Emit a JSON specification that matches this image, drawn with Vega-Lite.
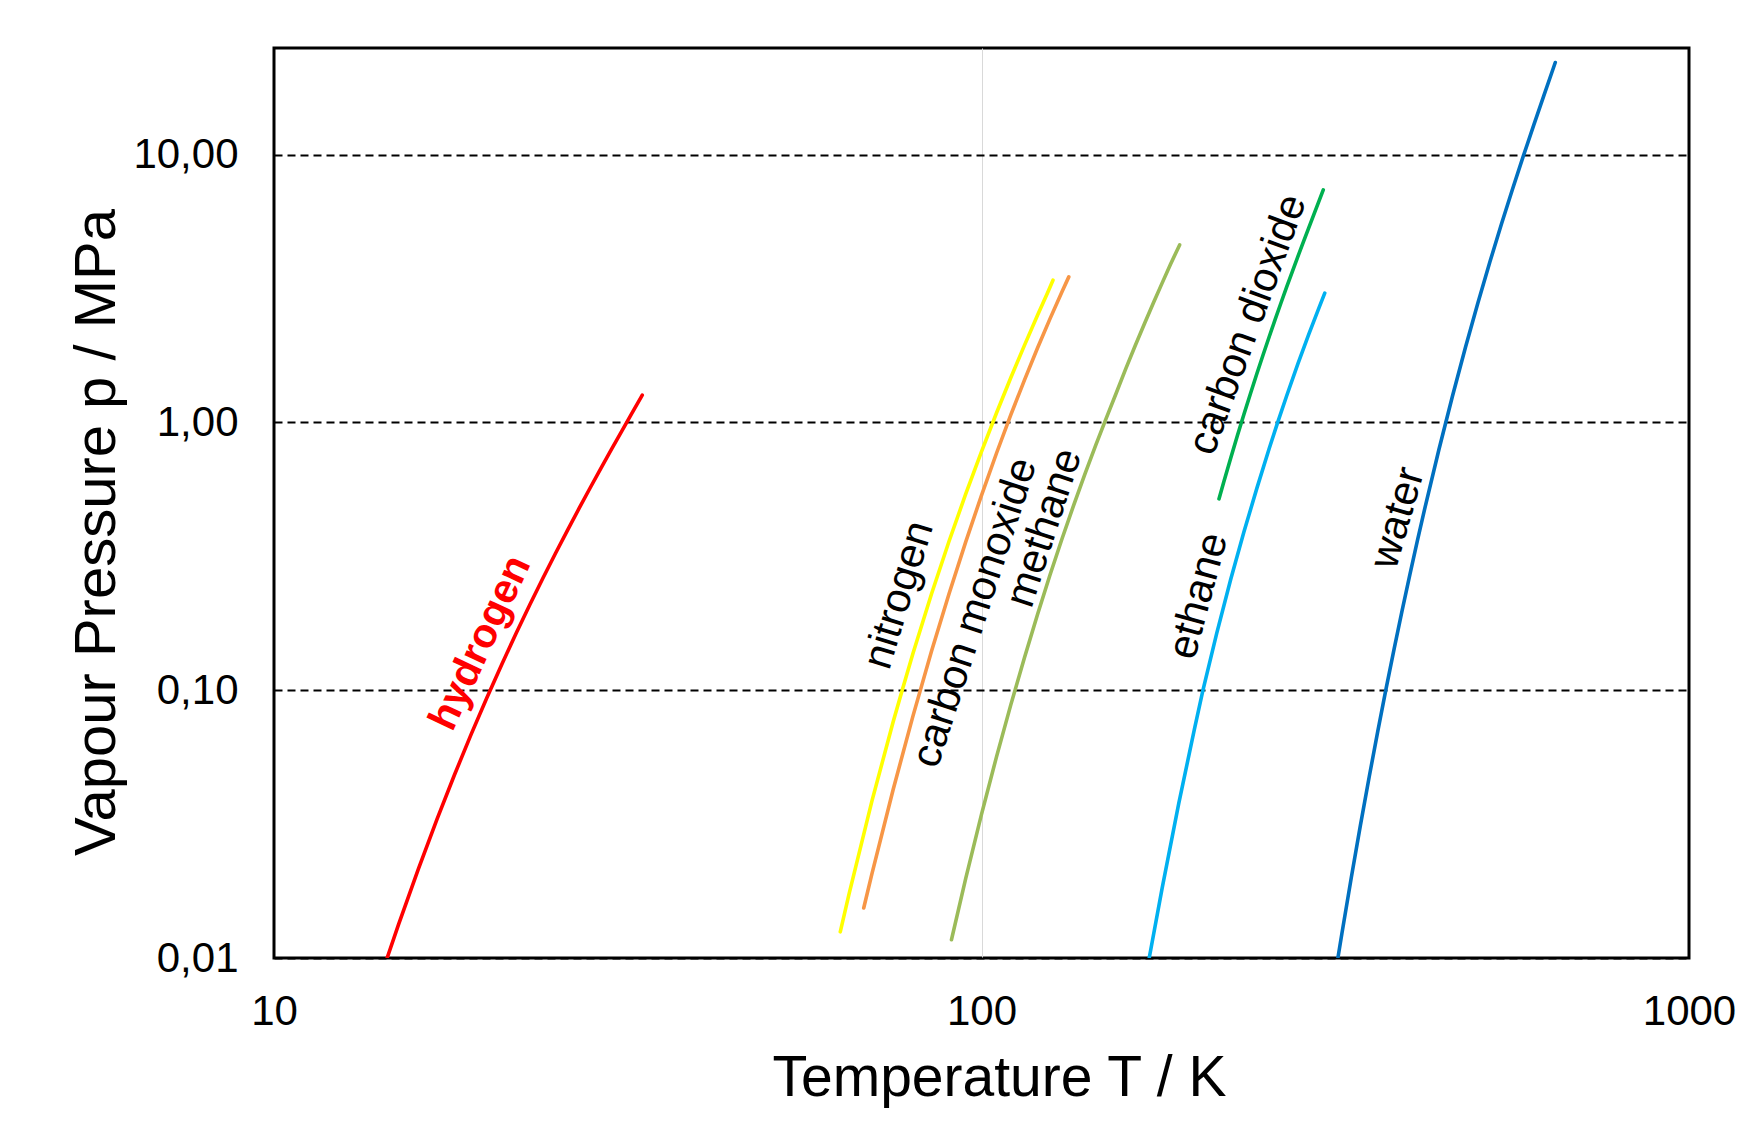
{
  "$schema": "https://vega.github.io/schema/vega-lite/v6.json",
  "width": 1415,
  "height": 910,
  "autosize": {"type": "none"},
  "padding": {"left": 274, "top": 48, "right": 63, "bottom": 176},
  "background": "white",
  "config": {"view": {"stroke": "black", "strokeWidth": 3}, "font": "Liberation Sans"},
  "datasets": {
    "curves": [
      {"substance": "hydrogen", "T": 14.45, "p": 0.0100},
      {"substance": "hydrogen", "T": 15, "p": 0.01335},
      {"substance": "hydrogen", "T": 16, "p": 0.0215},
      {"substance": "hydrogen", "T": 17, "p": 0.03298},
      {"substance": "hydrogen", "T": 18, "p": 0.04843},
      {"substance": "hydrogen", "T": 19, "p": 0.06854},
      {"substance": "hydrogen", "T": 20, "p": 0.09395},
      {"substance": "hydrogen", "T": 21, "p": 0.12536},
      {"substance": "hydrogen", "T": 22, "p": 0.16341},
      {"substance": "hydrogen", "T": 23, "p": 0.2088},
      {"substance": "hydrogen", "T": 24, "p": 0.26223},
      {"substance": "hydrogen", "T": 25, "p": 0.32442},
      {"substance": "hydrogen", "T": 26, "p": 0.39613},
      {"substance": "hydrogen", "T": 27, "p": 0.47813},
      {"substance": "hydrogen", "T": 28, "p": 0.57125},
      {"substance": "hydrogen", "T": 29, "p": 0.67635},
      {"substance": "hydrogen", "T": 30, "p": 0.79438},
      {"substance": "hydrogen", "T": 31, "p": 0.92638},
      {"substance": "hydrogen", "T": 32, "p": 1.0736},
      {"substance": "hydrogen", "T": 33, "p": 1.2376},
      {"substance": "hydrogen", "T": 33.15, "p": 1.264},
      {"substance": "nitrogen", "T": 63.15, "p": 0.01252},
      {"substance": "nitrogen", "T": 65, "p": 0.0174},
      {"substance": "nitrogen", "T": 70, "p": 0.03855},
      {"substance": "nitrogen", "T": 75, "p": 0.07604},
      {"substance": "nitrogen", "T": 77.36, "p": 0.10133},
      {"substance": "nitrogen", "T": 80, "p": 0.13699},
      {"substance": "nitrogen", "T": 85, "p": 0.22903},
      {"substance": "nitrogen", "T": 90, "p": 0.3605},
      {"substance": "nitrogen", "T": 95, "p": 0.54041},
      {"substance": "nitrogen", "T": 100, "p": 0.77827},
      {"substance": "nitrogen", "T": 105, "p": 1.0841},
      {"substance": "nitrogen", "T": 110, "p": 1.4671},
      {"substance": "nitrogen", "T": 115, "p": 1.9385},
      {"substance": "nitrogen", "T": 120, "p": 2.5106},
      {"substance": "nitrogen", "T": 124, "p": 3.0476},
      {"substance": "nitrogen", "T": 126.19, "p": 3.3958},
      {"substance": "carbon monoxide", "T": 68.16, "p": 0.01537},
      {"substance": "carbon monoxide", "T": 70, "p": 0.0206},
      {"substance": "carbon monoxide", "T": 75, "p": 0.0425},
      {"substance": "carbon monoxide", "T": 80, "p": 0.080},
      {"substance": "carbon monoxide", "T": 85, "p": 0.140},
      {"substance": "carbon monoxide", "T": 90, "p": 0.2296},
      {"substance": "carbon monoxide", "T": 95, "p": 0.358},
      {"substance": "carbon monoxide", "T": 100, "p": 0.534},
      {"substance": "carbon monoxide", "T": 105, "p": 0.767},
      {"substance": "carbon monoxide", "T": 110, "p": 1.066},
      {"substance": "carbon monoxide", "T": 115, "p": 1.4385},
      {"substance": "carbon monoxide", "T": 120, "p": 1.895},
      {"substance": "carbon monoxide", "T": 125, "p": 2.44},
      {"substance": "carbon monoxide", "T": 130, "p": 3.083},
      {"substance": "carbon monoxide", "T": 132.86, "p": 3.494},
      {"substance": "methane", "T": 90.69, "p": 0.0117},
      {"substance": "methane", "T": 95, "p": 0.01983},
      {"substance": "methane", "T": 100, "p": 0.03438},
      {"substance": "methane", "T": 105, "p": 0.05638},
      {"substance": "methane", "T": 110, "p": 0.08813},
      {"substance": "methane", "T": 115, "p": 0.13221},
      {"substance": "methane", "T": 120, "p": 0.19177},
      {"substance": "methane", "T": 125, "p": 0.26973},
      {"substance": "methane", "T": 130, "p": 0.3685},
      {"substance": "methane", "T": 135, "p": 0.49094},
      {"substance": "methane", "T": 140, "p": 0.64072},
      {"substance": "methane", "T": 145, "p": 0.82043},
      {"substance": "methane", "T": 150, "p": 1.0337},
      {"substance": "methane", "T": 155, "p": 1.2843},
      {"substance": "methane", "T": 160, "p": 1.5915},
      {"substance": "methane", "T": 165, "p": 1.9401},
      {"substance": "methane", "T": 170, "p": 2.3397},
      {"substance": "methane", "T": 175, "p": 2.795},
      {"substance": "methane", "T": 180, "p": 3.3119},
      {"substance": "methane", "T": 185, "p": 3.8966},
      {"substance": "methane", "T": 190.56, "p": 4.5992},
      {"substance": "carbon dioxide", "T": 216.59, "p": 0.518},
      {"substance": "carbon dioxide", "T": 220, "p": 0.5991},
      {"substance": "carbon dioxide", "T": 225, "p": 0.735},
      {"substance": "carbon dioxide", "T": 230, "p": 0.8929},
      {"substance": "carbon dioxide", "T": 235, "p": 1.0747},
      {"substance": "carbon dioxide", "T": 240, "p": 1.2825},
      {"substance": "carbon dioxide", "T": 245, "p": 1.5185},
      {"substance": "carbon dioxide", "T": 250, "p": 1.785},
      {"substance": "carbon dioxide", "T": 255, "p": 2.0843},
      {"substance": "carbon dioxide", "T": 260, "p": 2.4188},
      {"substance": "carbon dioxide", "T": 265, "p": 2.7909},
      {"substance": "carbon dioxide", "T": 270, "p": 3.2033},
      {"substance": "carbon dioxide", "T": 275, "p": 3.6589},
      {"substance": "carbon dioxide", "T": 280, "p": 4.1607},
      {"substance": "carbon dioxide", "T": 285, "p": 4.7123},
      {"substance": "carbon dioxide", "T": 290, "p": 5.3177},
      {"substance": "carbon dioxide", "T": 295, "p": 5.9822},
      {"substance": "carbon dioxide", "T": 300, "p": 6.7131},
      {"substance": "carbon dioxide", "T": 304.13, "p": 7.3773},
      {"substance": "ethane", "T": 172.6, "p": 0.0100},
      {"substance": "ethane", "T": 180, "p": 0.0182},
      {"substance": "ethane", "T": 190, "p": 0.0377},
      {"substance": "ethane", "T": 200, "p": 0.0717},
      {"substance": "ethane", "T": 205.6, "p": 0.100},
      {"substance": "ethane", "T": 215, "p": 0.163},
      {"substance": "ethane", "T": 225, "p": 0.259},
      {"substance": "ethane", "T": 235, "p": 0.391},
      {"substance": "ethane", "T": 245, "p": 0.567},
      {"substance": "ethane", "T": 255, "p": 0.797},
      {"substance": "ethane", "T": 262.2, "p": 1.0},
      {"substance": "ethane", "T": 270, "p": 1.257},
      {"substance": "ethane", "T": 280, "p": 1.654},
      {"substance": "ethane", "T": 290, "p": 2.125},
      {"substance": "ethane", "T": 300, "p": 2.68},
      {"substance": "ethane", "T": 305.6, "p": 3.04},
      {"substance": "water", "T": 318.96, "p": 0.0100},
      {"substance": "water", "T": 323.15, "p": 0.012352},
      {"substance": "water", "T": 333.15, "p": 0.019946},
      {"substance": "water", "T": 343.15, "p": 0.031201},
      {"substance": "water", "T": 353.15, "p": 0.047414},
      {"substance": "water", "T": 363.15, "p": 0.070182},
      {"substance": "water", "T": 373.12, "p": 0.101325},
      {"substance": "water", "T": 383.15, "p": 0.14338},
      {"substance": "water", "T": 393.15, "p": 0.19867},
      {"substance": "water", "T": 403.15, "p": 0.27028},
      {"substance": "water", "T": 413.15, "p": 0.36154},
      {"substance": "water", "T": 423.15, "p": 0.47616},
      {"substance": "water", "T": 443.15, "p": 0.79205},
      {"substance": "water", "T": 463.15, "p": 1.2551},
      {"substance": "water", "T": 483.15, "p": 1.908},
      {"substance": "water", "T": 503.15, "p": 2.7979},
      {"substance": "water", "T": 523.15, "p": 3.9776},
      {"substance": "water", "T": 543.15, "p": 5.5051},
      {"substance": "water", "T": 563.15, "p": 7.4416},
      {"substance": "water", "T": 583.15, "p": 9.865},
      {"substance": "water", "T": 603.15, "p": 12.858},
      {"substance": "water", "T": 623.15, "p": 16.529},
      {"substance": "water", "T": 643.15, "p": 21.044},
      {"substance": "water", "T": 647.1, "p": 22.064}
    ],
    "labels": [
      {"label": "hydrogen", "T": 19.6, "p": 0.150},
      {"label": "nitrogen", "T": 76.4, "p": 0.227},
      {"label": "carbon monoxide", "T": 97.8, "p": 0.195},
      {"label": "methane", "T": 122.6, "p": 0.404},
      {"label": "carbon dioxide", "T": 237.7, "p": 2.32},
      {"label": "ethane", "T": 202.5, "p": 0.225},
      {"label": "water", "T": 387.1, "p": 0.44}
    ]
  },
  "layer": [
    {
      "data": {"name": "curves"},
      "mark": {"type": "line", "strokeWidth": 3.6, "strokeCap": "round", "strokeJoin": "round", "clip": true},
      "encoding": {
        "x": {
          "field": "T", "type": "quantitative",
          "scale": {"type": "log", "domain": [10, 1000], "nice": false},
          "axis": {
            "values": [10, 100, 1000], "format": "d",
            "labelFontSize": 42, "labelColor": "black", "labelPadding": 33,
            "labelFlush": false, "labelOverlap": false, "labelBound": false,
            "domain": false, "ticks": false, "tickSize": 0,
            "grid": true, "gridColor": "#d9d9d9", "gridWidth": 1,
            "gridOpacity": {"condition": {"test": "datum.value == 100", "value": 1}, "value": 0},
            "title": "Temperature T / K", "titleFontSize": 57, "titleFontWeight": "normal", "titleColor": "black",
            "titleX": 725, "titleY": 137, "titleAlign": "center", "titleBaseline": "alphabetic"
          }
        },
        "y": {
          "field": "p", "type": "quantitative",
          "scale": {"type": "log", "domain": [0.01, 25], "nice": false},
          "axis": {
            "values": [0.01, 0.1, 1, 10],
            "labelExpr": "replace(format(datum.value, '.2f'), '.', ',')",
            "labelFontSize": 42, "labelColor": "black", "labelPadding": 36,
            "labelFlush": false, "labelOverlap": false, "labelBound": false,
            "domain": false, "ticks": false, "tickSize": 0,
            "grid": true, "gridColor": "black", "gridDash": [8, 5], "gridWidth": 2,
            "title": "Vapour Pressure  p / MPa", "titleFontSize": 58, "titleFontWeight": "normal", "titleColor": "black",
            "titleX": -160, "titleY": 484, "titleAngle": -90, "titleAlign": "center", "titleBaseline": "alphabetic"
          }
        },
        "color": {
          "field": "substance", "type": "nominal",
          "scale": {
            "domain": ["hydrogen", "nitrogen", "carbon monoxide", "methane", "carbon dioxide", "ethane", "water"],
            "range": ["#FF0000", "#FFFF00", "#F79646", "#9BBB59", "#00B050", "#00B0F0", "#0070C0"]
          },
          "legend": null
        }
      }
    },
    {
      "data": {"name": "labels"},
      "transform": [{"filter": "datum.label === 'hydrogen'"}],
      "mark": {"type": "text", "angle": -65, "fontSize": 41, "fontWeight": "bold", "color": "#FF0000", "align": "center", "baseline": "middle"},
      "encoding": {"x": {"field": "T", "type": "quantitative"}, "y": {"field": "p", "type": "quantitative"}, "text": {"field": "label"}}
    },
    {
      "data": {"name": "labels"},
      "transform": [{"filter": "datum.label === 'nitrogen'"}],
      "mark": {"type": "text", "angle": -73, "fontSize": 42, "color": "black", "align": "center", "baseline": "middle"},
      "encoding": {"x": {"field": "T", "type": "quantitative"}, "y": {"field": "p", "type": "quantitative"}, "text": {"field": "label"}}
    },
    {
      "data": {"name": "labels"},
      "transform": [{"filter": "datum.label === 'carbon monoxide'"}],
      "mark": {"type": "text", "angle": -72, "fontSize": 42, "color": "black", "align": "center", "baseline": "middle"},
      "encoding": {"x": {"field": "T", "type": "quantitative"}, "y": {"field": "p", "type": "quantitative"}, "text": {"field": "label"}}
    },
    {
      "data": {"name": "labels"},
      "transform": [{"filter": "datum.label === 'methane'"}],
      "mark": {"type": "text", "angle": -72, "fontSize": 42, "color": "black", "align": "center", "baseline": "middle"},
      "encoding": {"x": {"field": "T", "type": "quantitative"}, "y": {"field": "p", "type": "quantitative"}, "text": {"field": "label"}}
    },
    {
      "data": {"name": "labels"},
      "transform": [{"filter": "datum.label === 'carbon dioxide'"}],
      "mark": {"type": "text", "angle": -70, "fontSize": 42, "color": "black", "align": "center", "baseline": "middle"},
      "encoding": {"x": {"field": "T", "type": "quantitative"}, "y": {"field": "p", "type": "quantitative"}, "text": {"field": "label"}}
    },
    {
      "data": {"name": "labels"},
      "transform": [{"filter": "datum.label === 'ethane'"}],
      "mark": {"type": "text", "angle": -75, "fontSize": 42, "color": "black", "align": "center", "baseline": "middle"},
      "encoding": {"x": {"field": "T", "type": "quantitative"}, "y": {"field": "p", "type": "quantitative"}, "text": {"field": "label"}}
    },
    {
      "data": {"name": "labels"},
      "transform": [{"filter": "datum.label === 'water'"}],
      "mark": {"type": "text", "angle": -74, "fontSize": 42, "color": "black", "align": "center", "baseline": "middle"},
      "encoding": {"x": {"field": "T", "type": "quantitative"}, "y": {"field": "p", "type": "quantitative"}, "text": {"field": "label"}}
    }
  ]
}
